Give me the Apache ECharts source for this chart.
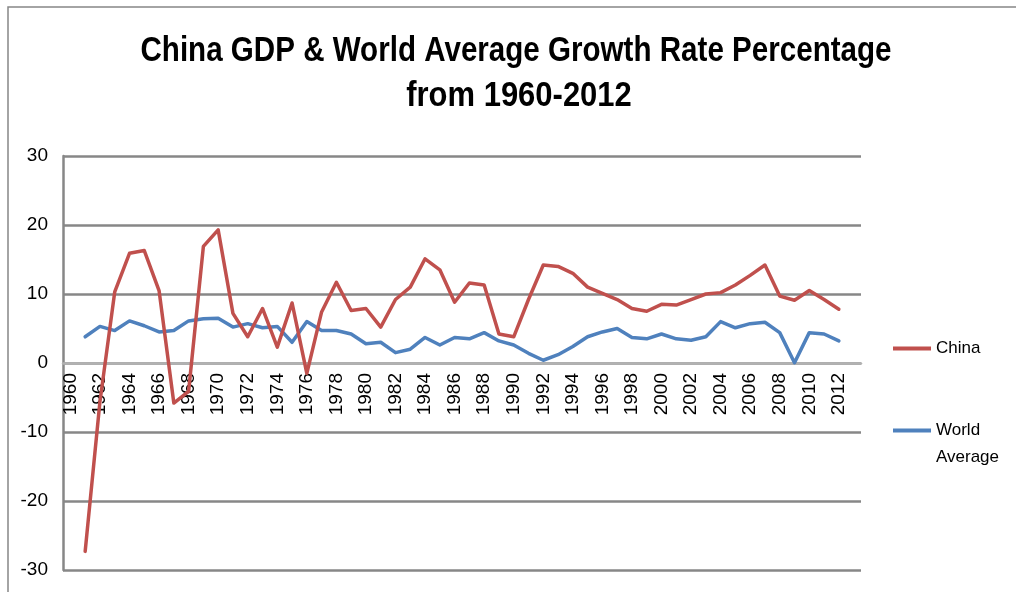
<!DOCTYPE html>
<html>
<head>
<meta charset="utf-8">
<script src="https://cdn.jsdelivr.net/npm/echarts@6/dist/echarts.min.js"></script>
<style>
  html, body { margin: 0; padding: 0; background: #fff; }
  #chart { width: 1016px; height: 592px; }
</style>
</head>
<body>
<div id="chart"></div>
<script>
// Annual GDP growth (%), China vs. world average
const years = ['1960','1961','1962','1963','1964','1965','1966','1967','1968','1969',
  '1970','1971','1972','1973','1974','1975','1976','1977','1978','1979',
  '1980','1981','1982','1983','1984','1985','1986','1987','1988','1989',
  '1990','1991','1992','1993','1994','1995','1996','1997','1998','1999',
  '2000','2001','2002','2003','2004','2005','2006','2007','2008','2009',
  '2010','2011','2012','2013'];

const china = [null, -27.3, -5.6, 10.3, 15.9, 16.3, 10.5, -5.8, -4.1, 16.9,
  19.3, 7.2, 3.8, 7.9, 2.3, 8.7, -1.5, 7.4, 11.7, 7.6,
  7.9, 5.2, 9.2, 11.0, 15.1, 13.5, 8.8, 11.6, 11.3, 4.2,
  3.8, 9.2, 14.2, 14.0, 13.0, 11.0, 10.1, 9.2, 7.9, 7.5,
  8.5, 8.4, 9.2, 10.0, 10.2, 11.3, 12.7, 14.2, 9.7, 9.1,
  10.5, 9.2, 7.8, null];

const worldAverage = [null, 3.8, 5.3, 4.7, 6.1, 5.4, 4.5, 4.7, 6.1, 6.4,
  6.5, 5.2, 5.7, 5.1, 5.3, 3.0, 6.0, 4.7, 4.7, 4.2,
  2.8, 3.0, 1.5, 2.0, 3.7, 2.6, 3.7, 3.5, 4.4, 3.2,
  2.6, 1.4, 0.4, 1.2, 2.4, 3.8, 4.5, 5.0, 3.7, 3.5,
  4.2, 3.5, 3.3, 3.8, 6.0, 5.1, 5.7, 5.9, 4.4, 0.05,
  4.4, 4.2, 3.2, null];

const yTicks = { min: -30, max: 30, interval: 10 };

const titleLines = ['China GDP & World Average Growth Rate Percentage', 'from 1960-2012'];
const seriesNames = ['China', 'World Average'];

const chart = echarts.init(document.getElementById('chart'), null, { renderer: 'canvas' });

const gridColor = '#878787';
const titleFont = "bold 35px 'Liberation Sans', Arial, sans-serif";

// Legend icons: a short bar placed inside a 38x31 box so that the bar lines up
// with the first line of each legend label.
const iconCenter = 'path://M0,0L0,0M0,13.5H38V17.5H0ZM38,31L38,31';
const iconTop = 'path://M0,0H38V4H0ZM38,31L38,31';

chart.setOption({
  animation: false,
  backgroundColor: '#ffffff',
  legend: {
    orient: 'vertical',
    left: 888,
    top: 328,
    padding: 5,
    itemGap: 53,
    itemWidth: 38,
    itemHeight: 31,
    symbolKeepAspect: false,
    formatter: name => name.replace(' ', '\n'),
    textStyle: {
      fontFamily: "'Liberation Sans', sans-serif",
      fontSize: 17,
      lineHeight: 27,
      color: '#000'
    },
    data: [
      { name: seriesNames[0], icon: iconCenter },
      { name: seriesNames[1], icon: iconTop }
    ]
  },
  grid: { left: 63, right: 155, top: 156, bottom: 22, containLabel: false, outerBoundsMode: 'none' },
  xAxis: {
    type: 'category',
    data: years,
    boundaryGap: true,
    offset: 0,
    z: 1,
    axisLine: { onZero: false, lineStyle: { color: '#b2b2b2', width: 2.5 } },
    axisTick: { show: false },
    axisLabel: {
      interval: 1,
      rotate: 90,
      margin: 10,
      color: '#000',
      fontFamily: "'Liberation Sans', sans-serif",
      fontSize: 19
    },
    splitLine: { show: false }
  },
  yAxis: {
    type: 'value',
    min: yTicks.min,
    max: yTicks.max,
    interval: yTicks.interval,
    z: 0,
    axisLine: { show: true, onZero: false, lineStyle: { color: gridColor, width: 2.5 } },
    axisTick: { show: false },
    axisLabel: {
      margin: 15,
      color: '#000',
      fontFamily: "'Liberation Sans', sans-serif",
      fontSize: 19
    },
    splitLine: { show: true, lineStyle: { color: gridColor, width: 2.5 } }
  },
  graphic: [
    {
      type: 'rect',
      shape: { x: 8, y: 7, width: 1200, height: 800 },
      style: { fill: null, stroke: gridColor, lineWidth: 1.5 },
      silent: true,
      z: -1
    },
    {
      type: 'text',
      x: 516, y: 51, scaleX: 0.845,
      style: { text: titleLines[0], font: titleFont, fill: '#000', textAlign: 'center', textVerticalAlign: 'middle' },
      silent: true
    },
    {
      type: 'text',
      x: 519, y: 96, scaleX: 0.885,
      style: { text: titleLines[1], font: titleFont, fill: '#000', textAlign: 'center', textVerticalAlign: 'middle' },
      silent: true
    }
  ],
  series: [
    {
      name: seriesNames[0],
      type: 'line',
      data: china,
      showSymbol: false,
      connectNulls: false,
      lineStyle: { color: '#C0504D', width: 3.5, join: 'round', cap: 'round' },
      itemStyle: { color: '#C0504D' },
      z: 4
    },
    {
      name: seriesNames[1],
      type: 'line',
      data: worldAverage,
      showSymbol: false,
      connectNulls: false,
      lineStyle: { color: '#4F81BD', width: 3.5, join: 'round', cap: 'round' },
      itemStyle: { color: '#4F81BD' },
      z: 3
    }
  ]
});

// The category axis crosses the value axis at zero: shift it up from the
// bottom edge by the distance the value scale gives between min and 0.
const zeroY = chart.convertToPixel({ yAxisIndex: 0 }, 0);
const bottomY = chart.convertToPixel({ yAxisIndex: 0 }, yTicks.min);
chart.setOption({ xAxis: { offset: zeroY - bottomY } });
</script>
</body>
</html>
